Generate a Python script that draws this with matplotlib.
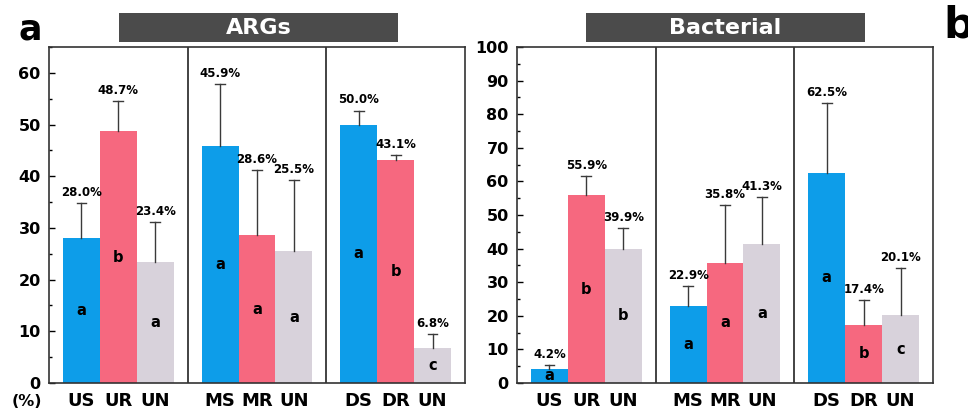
import matplotlib
matplotlib.use("Agg")
import matplotlib.pyplot as plt
from matplotlib.patches import Rectangle
from matplotlib.ticker import MultipleLocator
import numpy as np

plt.rcParams['font.family'] = ['DejaVu Sans']
plt.rcParams['font.weight'] = 'bold'

# categories per group (site / treatment)
groups = [["US", "UR", "UN"], ["MS", "MR", "UN"], ["DS", "DR", "UN"]]

# ARGs panel: mean (%) and upper end of error bar
args_vals = [28.0, 48.7, 23.4, 45.9, 28.6, 25.5, 50.0, 43.1, 6.8]
args_err_top = [34.8, 54.5, 31.2, 57.8, 41.2, 39.3, 52.7, 44.1, 9.4]
args_letters = ["a", "b", "a", "a", "a", "a", "a", "b", "c"]

# Bacterial panel
bact_vals = [4.2, 55.9, 39.9, 22.9, 35.8, 41.3, 62.5, 17.4, 20.1]
bact_err_top = [5.3, 61.6, 46.1, 28.9, 52.9, 55.3, 83.2, 24.6, 34.2]
bact_letters = ["a", "b", "b", "a", "a", "a", "a", "b", "c"]

colors = ["#0d9de9", "#f6687f", "#d8d2db"]
W, H = 968, 416
fig = plt.figure(figsize=(W / 100, H / 100), dpi=100)

bar_w = 0.266
centers = np.array([g + 0.5 + (k - 1) * bar_w for g in range(3) for k in range(3)])
labels = [lab for grp in groups for lab in grp]


def panel(left_px, vals, err_top, letters, ymax, major):
    ax = fig.add_axes([left_px / W, (H - 383) / H, 416 / W, 336 / H])
    cols = [colors[i % 3] for i in range(9)]
    ax.bar(centers, vals, width=bar_w, color=cols, edgecolor="none", zorder=2)
    for x, v, e, lt in zip(centers, vals, err_top, letters):
        ax.plot([x, x], [v, e], color="#3a3a3a", lw=1.0, zorder=3)
        ax.plot([x - 0.035, x + 0.035], [e, e], color="#3a3a3a", lw=1.0, zorder=3)
        ax.annotate(f"{v:.1f}%", (x, e), xytext=(0, 3), textcoords="offset points",
                    ha="center", va="bottom", fontsize=8.5, fontweight="bold")
        ax.text(x, v / 2, lt, ha="center", va="center", fontsize=10.5,
                fontweight="bold", zorder=4)
    for d in (1, 2):
        ax.axvline(d, color="#222222", lw=1.2, zorder=1)
    ax.set_xlim(0, 3)
    ax.set_ylim(0, ymax)
    ax.yaxis.set_major_locator(MultipleLocator(major))
    ax.yaxis.set_minor_locator(MultipleLocator(major / 2))
    ax.tick_params(axis="y", which="major", direction="in", length=4, width=1,
                   labelsize=11.5, pad=6)
    ax.tick_params(axis="y", which="minor", direction="in", length=2.5, width=1)
    ax.set_xticks(centers)
    ax.set_xticklabels(labels, fontsize=13, fontweight="bold")
    ax.tick_params(axis="x", length=0, pad=6.5)
    for lab in ax.get_yticklabels():
        lab.set_fontweight("bold")
    for s in ax.spines.values():
        s.set_color("#333333")
        s.set_linewidth(1.2)
    return ax


ax1 = panel(49, args_vals, args_err_top, args_letters, 65, 10)
ax2 = panel(517, bact_vals, bact_err_top, bact_letters, 100, 10)

# header boxes
for x0, x1, title in [(119, 398, "ARGs"), (586, 865, "Bacterial")]:
    fig.patches.append(Rectangle((x0 / W, (H - 42) / H), (x1 - x0) / W, 29 / H,
                                 transform=fig.transFigure, facecolor="#4b4b4b",
                                 edgecolor="none"))
    fig.text((x0 + x1) / 2 / W, (H - 27.5) / H, title, color="white",
             fontsize=16, fontweight="bold", ha="center", va="center")

fig.text(30 / W, (H - 29) / H, "a", fontsize=25, fontweight="heavy",
         ha="center", va="center")
fig.text(943 / W, (H - 25) / H, "b", fontsize=31, fontweight="heavy",
         ha="left", va="center")
fig.text(27 / W, (H - 401) / H, "(%)", fontsize=11.5, fontweight="bold",
         ha="center", va="center")

fig.savefig("out.png", dpi=100)
